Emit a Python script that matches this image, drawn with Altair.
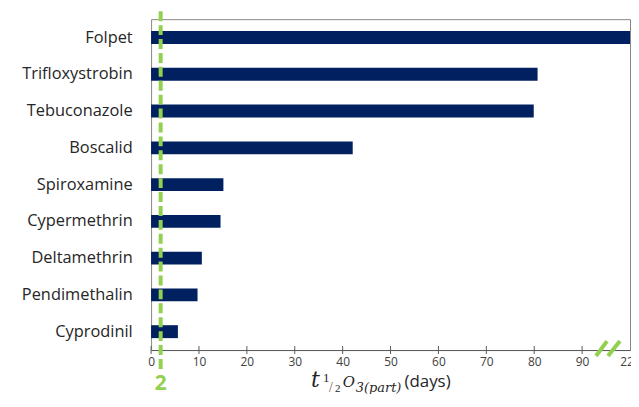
import altair as alt
import pandas as pd

# ---- data ----
compounds = ["Folpet", "Trifloxystrobin", "Tebuconazole", "Boscalid", "Spiroxamine",
             "Cypermethrin", "Deltamethrin", "Pendimethalin", "Cyprodinil"]
half_life_days = [220, 80.7, 79.9, 42.1, 15.1, 14.5, 10.6, 9.7, 5.6]

tick_values = [0, 10, 20, 30, 40, 50, 60, 70, 80, 90, 100]
tick_labels = ["0", "10", "20", "30", "40", "50", "60", "70", "80", "90", "220"]
threshold_days = [2]
break_marks_from = [92.9, 95.4]
break_marks_to = [95.2, 97.9]

bars_df = pd.DataFrame({"compound": compounds, "t": half_life_days})
thr_df = pd.DataFrame({"x": threshold_days, "label": ["2"]})
tick_df = pd.DataFrame({"x": tick_values[:-1]})
brk_df = pd.DataFrame({"x": break_marks_from, "x2": break_marks_to})

GREEN = "#92D050"
NAVY = "#002060"
FONT = "Open Sans"

label_expr = "[" + ",".join("'%s'" % s for s in tick_labels) + "][indexof([" + \
    ",".join(str(v) for v in tick_values) + "], datum.value)]"

xscale = alt.Scale(domain=[0, 100], clamp=True, nice=False, zero=True)

bars = alt.Chart(bars_df).mark_bar(size=13, color=NAVY).encode(
    x=alt.X("t:Q", scale=xscale,
            axis=alt.Axis(values=tick_values, labelExpr=label_expr, title=None,
                          ticks=False, grid=False, domainColor="#595959",
                          labelColor="#404040", labelFont=FONT, labelFontSize=12,
                          labelPadding=7, labelFlush=False, labelOverlap=False)),
    y=alt.Y("compound:N", sort=compounds,
            scale=alt.Scale(paddingInner=0, paddingOuter=0),
            axis=alt.Axis(title=None, ticks=False, domain=False, labelFont=FONT,
                          labelFontSize=16.5, labelColor="#262626", labelPadding=19)),
)

ticks = alt.Chart(tick_df).mark_rule(color="#595959", strokeWidth=1).encode(
    x=alt.X("x:Q", scale=xscale),
    y=alt.value(329), y2=alt.value(337),
)

threshold = alt.Chart(thr_df).mark_rule(color=GREEN, strokeWidth=4,
                                        strokeDash=[10, 4], clip=False).encode(
    x=alt.X("x:Q", scale=xscale),
    y=alt.value(-8), y2=alt.value(352),
)

thr_label = alt.Chart(thr_df).mark_text(color=GREEN, fontSize=21, fontWeight="bold",
                                        font=FONT, baseline="alphabetic",
                                        clip=False).encode(
    x=alt.X("x:Q", scale=xscale),
    y=alt.value(373),
    text="label:N",
)

breaks = alt.Chart(brk_df).mark_rule(color=GREEN, strokeWidth=4, clip=False).encode(
    x=alt.X("x:Q", scale=xscale), x2="x2:Q",
    y=alt.value(339), y2=alt.value(324),
)

# axis title  t1/2 O3(part) (days)
title_parts = pd.DataFrame({
    "txt": ["t", "1", "/", "2", "O", "3(part)", "(days)"],
    "px": [161, 173, 179, 185, 193, 206, 255],
    "py": [370, 365, 375, 375, 370, 375, 370],
    "size": [22, 13, 14, 11, 15, 13, 17],
    "font": ["DejaVu Serif", "Liberation Serif", "Liberation Serif", "Liberation Serif",
             "DejaVu Serif", "DejaVu Serif", FONT],
    "style": ["italic", "normal", "normal", "normal", "italic", "italic", "normal"],
    "color": ["#262626", "#262626", "#8B4B4B", "#262626", "#262626", "#262626", "#262626"],
})

title_layers = []
for _, r in title_parts.iterrows():
    title_layers.append(
        alt.Chart(pd.DataFrame({"t": [r["txt"]]})).mark_text(
            align="left", baseline="alphabetic", fontSize=int(r["size"]),
            font=r["font"], fontStyle=r["style"], color=r["color"], clip=False,
        ).encode(x=alt.value(int(r["px"])), y=alt.value(int(r["py"])), text="t:N")
    )

chart = alt.layer(bars, ticks, breaks, threshold, thr_label, *title_layers).properties(
    width=482, height=333,
    autosize=alt.AutoSizeParams(type="none"),
    padding={"left": 144, "top": 10, "right": 1, "bottom": 43},
    background="white",
).configure_view(stroke="#868686", strokeWidth=1)

chart.save("out.html", embed_options={"renderer": "svg", "actions": False})
